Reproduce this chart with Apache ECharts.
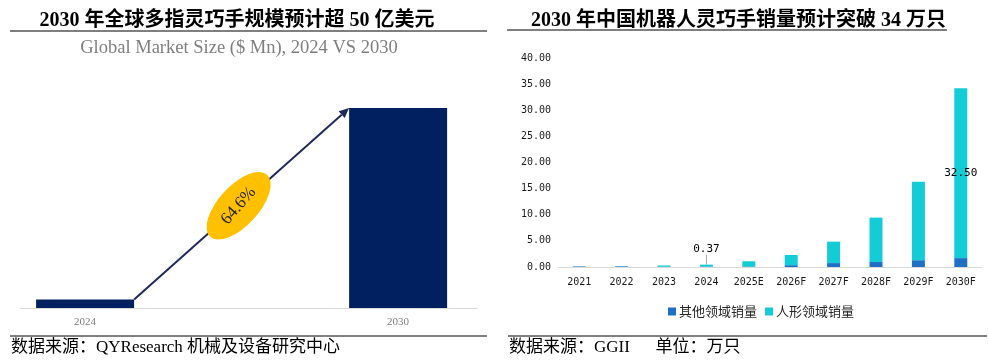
<!DOCTYPE html>
<html><head><meta charset="utf-8">
<script src="https://cdn.jsdelivr.net/npm/echarts@6/dist/echarts.min.js"></script>
<style>html,body{margin:0;padding:0;background:#fff}#c{width:988px;height:363px}</style>
</head><body><div id="c"></div>
<script>
// ---- Left chart data ----
const leftTitle = '2030 年全球多指灵巧手规模预计超 50 亿美元';
const leftSubtitle = 'Global Market Size ($ Mn), 2024 VS 2030';
const leftCategories = ['2024', '2030'];
const leftValues = [210, 5000];
const cagrLabel = '64.6%';
const leftSource = '数据来源：QYResearch 机械及设备研究中心';

// ---- Right chart data ----
const rightTitle = '2030 年中国机器人灵巧手销量预计突破 34 万只';
const rightCategories = ['2021', '2022', '2023', '2024', '2025E', '2026F', '2027F', '2028F', '2029F', '2030F'];
const otherSales =    [0.10, 0.12, 0.05, 0.08, 0.10, 0.35, 0.75, 0.95, 1.30, 1.70];
const humanoidSales = [0.02, 0.03, 0.25, 0.37, 1.00, 1.95, 4.10, 8.50, 15.00, 32.50];
const labeledPoints = [3, 9]; // indices of humanoid values that carry a label
const seriesNames = ['其他领域销量', '人形领域销量'];
const rightSource = '数据来源：GGII      单位：万只';

const SERIF = '"Liberation Serif","Noto Sans CJK SC",serif';
const MONO = '"DejaVu Sans Mono","Liberation Mono",monospace';
const CJK = '"Noto Sans CJK SC",sans-serif';
const NAVY = '#002060';
const BLUE = '#1f6fc5';
const CYAN = '#14ccd6';
const LEFT_BAR_W = 98;

const chart = echarts.init(document.getElementById('c'), null, {renderer: 'canvas'});

const option = {
  animation: false,
  backgroundColor: '#fff',
  grid: [
    {left: 20, width: 457, top: 108, height: 200},
    {left: 558, width: 424, top: 58, height: 209}
  ],
  xAxis: [
    {
      type: 'value', gridIndex: 0, min: -0.208, max: 1.252,
      axisLine: {show: true, lineStyle: {color: '#d9d9d9', width: 1}},
      axisTick: {show: false}, splitLine: {show: false},
      axisLabel: {
        customValues: [0, 1],
        formatter: v => leftCategories[Math.round(v)] || '',
        color: '#7f7f7f', fontFamily: SERIF, fontSize: 11, margin: 9
      }
    },
    {
      type: 'category', gridIndex: 1, data: rightCategories,
      axisLine: {show: true, lineStyle: {color: '#d9d9d9', width: 1}},
      axisTick: {show: false},
      axisLabel: {color: '#1a1a1a', fontFamily: MONO, fontSize: 10, margin: 10, interval: 0}
    }
  ],
  yAxis: [
    {type: 'value', gridIndex: 0, min: 0, max: 5000, show: false},
    {
      type: 'value', gridIndex: 1, min: 0, max: 40, interval: 5,
      axisLine: {show: false}, axisTick: {show: false}, splitLine: {show: false},
      axisLabel: {formatter: v => v.toFixed(2), color: '#1a1a1a', fontFamily: MONO, fontSize: 10, margin: 7}
    }
  ],
  legend: {
    data: seriesNames, left: 663, top: 300, icon: 'rect', itemWidth: 8, itemHeight: 8, itemGap: 8,
    textStyle: {fontFamily: CJK, fontSize: 13, color: '#262626', padding: [0, 0, 0, -2]}
  },
  series: [
    {
      type: 'bar', xAxisIndex: 0, yAxisIndex: 0, barWidth: LEFT_BAR_W,
      data: leftValues.map((v, i) => [i, v]),
      itemStyle: {color: NAVY}
    },
    {
      name: seriesNames[0], type: 'bar', xAxisIndex: 1, yAxisIndex: 1, stack: 's', barWidth: 13,
      data: otherSales, itemStyle: {color: BLUE}
    },
    {
      name: seriesNames[1], type: 'bar', xAxisIndex: 1, yAxisIndex: 1, stack: 's', barWidth: 13,
      itemStyle: {color: CYAN},
      data: humanoidSales.map((v, i) => {
        if (labeledPoints.indexOf(i) < 0) return v;
        const inside = i === rightCategories.length - 1;
        return {
          value: v,
          label: {
            show: true, position: inside ? 'inside' : 'top', distance: 3,
            formatter: p => p.value.toFixed(2),
            color: '#000', fontFamily: MONO, fontSize: 11
          },
          labelLine: {show: !inside, lineStyle: {color: '#a6a6a6', width: 1}}
        };
      }),
      labelLayout: p => (p.dataIndex === 3 ? {dy: -7} : {})
    }
  ]
};
chart.setOption(option);

// Annotation graphics derived from the left chart's scales
const p1 = chart.convertToPixel({gridIndex: 0}, [0, leftValues[0]]);
const p2 = chart.convertToPixel({gridIndex: 0}, [1, leftValues[1]]);
const sx = p1[0] + LEFT_BAR_W / 2, sy = p1[1];
const ex = p2[0] - LEFT_BAR_W / 2, ey = p2[1];
const ang = Math.atan2(sy - ey, ex - sx);
const mx = (sx + ex) / 2, my = (sy + ey) / 2;
const ah = 10, aw = 4.5;
const ux = Math.cos(ang), uy = -Math.sin(ang);
const bx = ex - ux * ah, by = ey - uy * ah;
const nx = -uy, ny = ux;

const graphics = [
  // titles
  {type: 'text', x: 237, y: 21, style: {text: leftTitle, font: 'bold 20px ' + SERIF, fill: '#000', align: 'center', verticalAlign: 'middle'}},
  {type: 'line', shape: {x1: 10, y1: 31, x2: 487, y2: 31}, style: {stroke: '#000', lineWidth: 1.2}},
  {type: 'text', x: 239, y: 48, style: {text: leftSubtitle, font: '18.5px ' + SERIF, fill: '#7f7f7f', align: 'center', verticalAlign: 'middle'}},
  {type: 'text', x: 531, y: 21, style: {text: rightTitle, font: 'bold 20px ' + SERIF, fill: '#000', align: 'left', verticalAlign: 'middle'}},
  {type: 'line', shape: {x1: 507, y1: 30, x2: 947, y2: 30}, style: {stroke: '#000', lineWidth: 1.2}},
  // footers
  {type: 'line', shape: {x1: 10, y1: 336, x2: 487, y2: 336}, style: {stroke: '#000', lineWidth: 1.2}},
  {type: 'line', shape: {x1: 508, y1: 336, x2: 987, y2: 336}, style: {stroke: '#000', lineWidth: 1.2}},
  {type: 'text', x: 11, y: 348, style: {text: leftSource, font: '17px ' + SERIF, fill: '#000', align: 'left', verticalAlign: 'middle'}},
  {type: 'text', x: 509, y: 348, style: {text: rightSource, font: '17px ' + SERIF, fill: '#000', align: 'left', verticalAlign: 'middle'}},
  // arrow
  {type: 'line', shape: {x1: sx, y1: sy, x2: bx, y2: by}, style: {stroke: '#1f2a5a', lineWidth: 2}, z: 5},
  {type: 'polygon', shape: {points: [[ex, ey], [bx + nx * aw, by + ny * aw], [bx - nx * aw, by - ny * aw]]}, style: {fill: '#1f2a5a'}, z: 5},
  // CAGR ellipse
  {type: 'circle', x: mx - 3, y: my + 2, rotation: ang + 0.1, scaleX: 2.1, scaleY: 1, shape: {cx: 0, cy: 0, r: 20}, style: {fill: '#ffc000'}, z: 6},
  {type: 'text', x: mx - 3, y: my + 2, rotation: ang + 0.12, style: {text: cagrLabel, font: '17px ' + SERIF, fill: '#262626', align: 'center', verticalAlign: 'middle'}, z: 7}
];
chart.setOption({graphic: graphics});
</script>
</body></html>
